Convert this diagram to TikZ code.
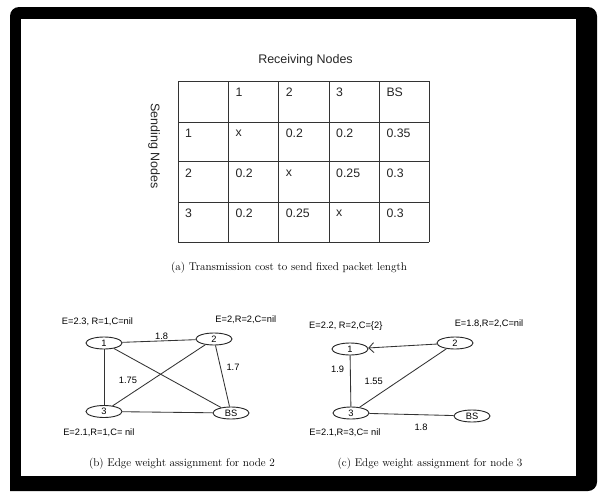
\documentclass[tikz,border=0pt]{standalone}
\usepackage{fontspec}
\setsansfont{Liberation Sans}
\usetikzlibrary{shapes.geometric,arrows.meta}
\begin{document}
\begin{tikzpicture}[x=1pt,y=-1pt,
 lbl/.style={font=\sffamily\fontsize{12.5}{14}\selectfont, inner sep=0pt, text=black!85},
 cell/.style={font=\sffamily\fontsize{12.3}{14}\selectfont, inner sep=0pt, anchor=west, text=black!85},
 gnode/.style={draw=black!85, ellipse, minimum width=36pt, minimum height=12pt, inner sep=0pt, font=\sffamily\fontsize{9.3}{10}\selectfont, line width=0.9pt},
 glbl/.style={font=\sffamily\fontsize{9.3}{10}\selectfont, inner sep=0pt},
 edge/.style={line width=0.85pt, draw=black!80},
 captxt/.style={font=\fontsize{11.2}{13}\selectfont, inner sep=0pt},
 tline/.style={line width=1pt, draw=black!80}]
% canvas and frame
\fill[white] (0,0) rectangle (598,496);
\useasboundingbox (0,0) rectangle (598,496);
\fill[black, rounded corners=9pt] (10,7) -- (597,7) -- (597,491) [sharp corners] -- (10,491) [rounded corners=9pt] -- cycle;
\fill[white] (21,19) rectangle (576,476);

% table grid
\foreach \x in {178,228.3,278.7,329,379.3,429.3}
  \draw[tline] (\x,81) -- (\x,242);
\foreach \y in {81,122,161.7,202,242}
  \draw[tline] (178,\y) -- (429.3,\y);

\node[lbl] (recv) at (305.5,60.7) {Receiving Nodes};
\node[lbl, rotate=-90] (send) at (154,146) {Sending Nodes};

% header row
\node[cell] (t01) at (235.3,92.5) {1};
\node[cell] (t02) at (285.7,92.5) {2};
\node[cell] (t03) at (336,92.5) {3};
\node[cell] (t04) at (386.3,92.5) {BS};
% row 1
\node[cell] (t10) at (185,133.5) {1};
\node[cell] (t11) at (235.3,133.5) {x};
\node[cell] (t12) at (285.7,133.5) {0.2};
\node[cell] (t13) at (336,133.5) {0.2};
\node[cell] (t14) at (386.3,133.5) {0.35};
% row 2
\node[cell] (t20) at (185,173.3) {2};
\node[cell] (t21) at (235.3,173.3) {0.2};
\node[cell] (t22) at (285.7,173.3) {x};
\node[cell] (t23) at (336,173.3) {0.25};
\node[cell] (t24) at (386.3,173.3) {0.3};
% row 3
\node[cell] (t30) at (185,213.5) {3};
\node[cell] (t31) at (235.3,213.5) {0.2};
\node[cell] (t32) at (285.7,213.5) {0.25};
\node[cell] (t33) at (336,213.5) {x};
\node[cell] (t34) at (386.3,213.5) {0.3};

\node[captxt] (capa) at (289,268) {(a) Transmission cost to send fixed packet length};

% graph (b)
\node[gnode] (b1) at (104,343) {1};
\node[gnode] (b2) at (214,339) {2};
\node[gnode] (b3) at (104,411.5) {3};
\node[gnode] (bBS) at (231,413) {BS};
\draw[edge] (b1) -- (b2);
\draw[edge] (b1) -- (b3);
\draw[edge] (b1) -- (bBS);
\draw[edge] (b2) -- (b3);
\draw[edge] (b2) -- (bBS);
\draw[edge] (b3) -- (bBS);
\node[glbl] (bl1) at (97.5,321.7) {E=2.3, R=1,C=nil};
\node[glbl] (bl2) at (245.8,320) {E=2,R=2,C=nil};
\node[glbl] (bl3) at (98.8,433) {E=2.1,R=1,C= nil};
\node[glbl] (bw12) at (161.7,336) {1.8};
\node[glbl] (bw2B) at (233,367) {1.7};
\node[glbl] (bw23) at (128,380) {1.75};
\node[captxt] (capb) at (182,464) {(b) Edge weight assignment for node 2};

% graph (c)
\node[gnode] (c1) at (350,349) {1};
\node[gnode] (c2) at (455,343) {2};
\node[gnode] (c3) at (351,413) {3};
\node[gnode] (cBS) at (472,416) {BS};
\draw[edge, -{Straight Barb[length=5pt,width=10pt]}] (c2) -- (c1);
\draw[edge] (c1) -- (c3);
\draw[edge] (c3) -- (c2);
\draw[edge] (c3) -- (cBS);
\node[glbl] (cl1) at (345.8,325.7) {E=2.2, R=2,C=\{2\}};
\node[glbl] (cl2) at (489,324) {E=1.8,R=2,C=nil};
\node[glbl] (cl3) at (345,433) {E=2.1,R=3,C= nil};
\node[glbl] (cw13) at (337.7,369) {1.9};
\node[glbl] (cw32) at (373.7,381.7) {1.55};
\node[glbl] (cw3B) at (421,427.7) {1.8};
\node[captxt] (capc) at (430,464) {(c) Edge weight assignment for node 3};
\end{tikzpicture}
\end{document}
